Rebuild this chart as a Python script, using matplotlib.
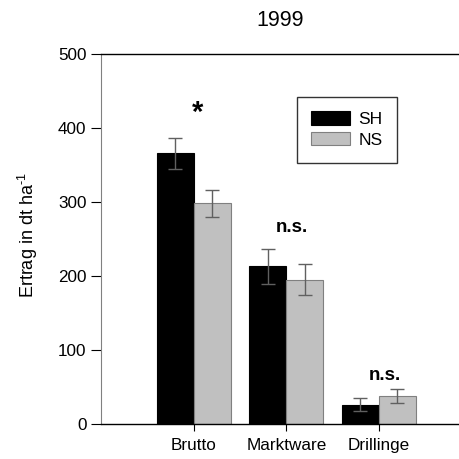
import matplotlib
matplotlib.use("Agg")
import matplotlib.pyplot as plt
import numpy as np

categories = ["Brutto", "Marktware", "Drillinge"]
sh_values = [366, 213, 26]
sh_errors = [21, 24, 9]
ns_values = [298, 195, 38]
ns_errors = [18, 21, 9]
series_labels = ["SH", "NS"]
significance = ["*", "n.s.", "n.s."]
sig_heights = [424, 265, 66]
yticks = [0, 100, 200, 300, 400, 500]

plt.rcParams["font.family"] = ["Liberation Sans", "DejaVu Sans"]
plt.rcParams["mathtext.fontset"] = "custom"
plt.rcParams["mathtext.rm"] = "Liberation Sans"

fig = plt.figure(figsize=(4.6, 4.59), dpi=100)
ax = fig.add_axes([0.2196, 0.0763, 0.7804, 0.8061])

x = np.arange(len(categories))
w = 0.4
err_kw = dict(ecolor="#606060", elinewidth=1.0, capsize=5, capthick=1.0)
ax.bar(x - w / 2, sh_values, w, yerr=sh_errors, color="black",
       edgecolor="black", linewidth=0.8, label=series_labels[0], error_kw=err_kw)
ax.bar(x + w / 2, ns_values, w, yerr=ns_errors, color="#c0c0c0",
       edgecolor="#808080", linewidth=0.8, label=series_labels[1], error_kw=err_kw)

for xi, s, h in zip(x, significance, sig_heights):
    if s == "*":
        ax.text(xi + 0.04, h - 4, s, ha="center", va="center", fontsize=21,
                fontweight="bold")
    else:
        ax.text(xi + 0.06, h, s, ha="center", va="center", fontsize=13.5,
                fontweight="bold")

ax.set_xlim(-1.005, 2.876)
ax.set_ylim(0, 500)
ax.set_yticks(yticks)
ax.set_xticks(x)
ax.set_xticklabels(categories)
ax.tick_params(axis="both", labelsize=12.3, direction="out", length=7, width=0.8)
ax.tick_params(axis="x", length=5, pad=5)

ax.spines["right"].set_visible(False)
ax.spines["left"].set_color("#808080")
ax.spines["left"].set_linewidth(0.8)
ax.spines["bottom"].set_linewidth(1.0)
ax.spines["top"].set_linewidth(1.0)

ax.set_title("1999", fontsize=15.5, pad=20)
ax.set_ylabel("Ertrag in dt ha$^{\\mathrm{\u2010}1}$", fontsize=13)
ax.yaxis.set_label_coords(-0.170, 0.51)

leg = ax.legend(loc="upper left", bbox_to_anchor=(0.545, 0.885), fontsize=12.5,
                frameon=True, fancybox=False, edgecolor="black",
                handlelength=2.2, handleheight=0.8, borderpad=0.85,
                labelspacing=0.3, handletextpad=0.5, borderaxespad=0)
leg.get_frame().set_linewidth(1.0)

fig.savefig("out.png", dpi=100)
